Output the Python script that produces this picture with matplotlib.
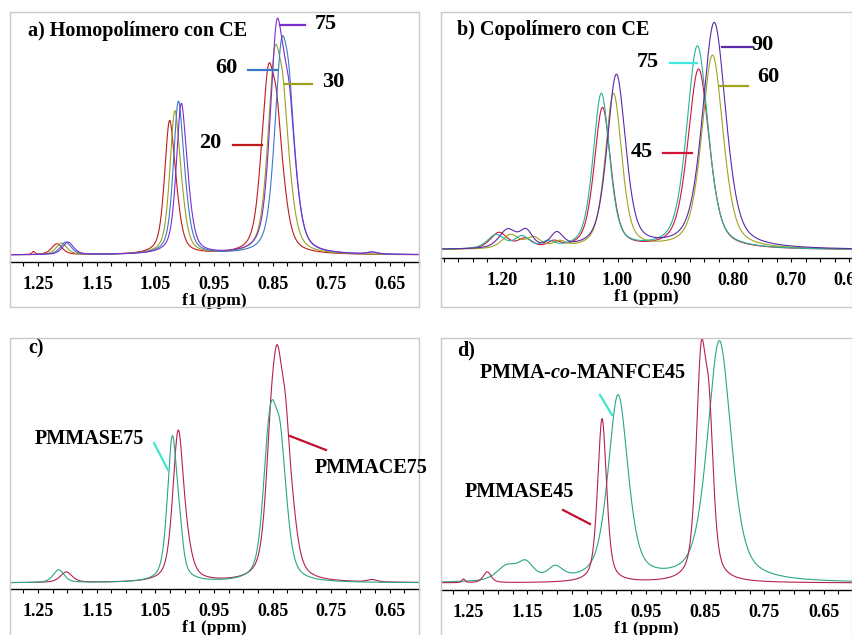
import numpy as np
import matplotlib
matplotlib.use("Agg")
import matplotlib.pyplot as plt
from matplotlib.lines import Line2D
from matplotlib.patches import Rectangle
from matplotlib.ticker import FixedLocator, MultipleLocator, FormatStrFormatter

plt.rcParams['font.family'] = ['Liberation Serif', 'DejaVu Serif']
plt.rcParams['mathtext.fontset'] = 'custom'
plt.rcParams['mathtext.it'] = 'Liberation Serif:italic:bold'
plt.rcParams['mathtext.rm'] = 'Liberation Serif:bold'
plt.rcParams['mathtext.bf'] = 'Liberation Serif:bold'

W, H = 852, 635

# peak tables: (shift ppm, height, width ppm)
a_20 = [(1.026, 0.52, 0.020), (1.013, 0.10, 0.020), (0.867, 0.18, 0.024), (0.857, 0.52, 0.022),
        (0.843, 0.42, 0.022), (0.830, 0.10, 0.024), (1.218, 0.045, 0.022), (1.258, 0.012, 0.006)]
a_30 = [(1.017, 0.56, 0.020), (1.004, 0.10, 0.020), (0.856, 0.18, 0.024), (0.846, 0.58, 0.022),
        (0.832, 0.46, 0.022), (0.819, 0.10, 0.024), (1.210, 0.048, 0.022)]
a_60 = [(1.011, 0.60, 0.020), (0.998, 0.10, 0.020), (0.845, 0.18, 0.024), (0.835, 0.58, 0.022),
        (0.822, 0.48, 0.022), (0.809, 0.10, 0.024), (1.203, 0.052, 0.022), (0.680, 0.008, 0.020)]
a_75 = [(1.006, 0.59, 0.020), (0.993, 0.10, 0.020), (0.853, 0.18, 0.024), (0.843, 0.66, 0.022),
        (0.832, 0.28, 0.022), (0.821, 0.42, 0.022), (0.808, 0.08, 0.024), (1.199, 0.052, 0.022),
        (0.680, 0.008, 0.020)]

b_45 = [(1.026, 0.61, 0.034), (0.860, 0.78, 0.044), (1.205, 0.07, 0.035), (1.160, 0.04, 0.030),
        (1.110, 0.025, 0.025)]
b_60 = [(1.007, 0.67, 0.034), (0.836, 0.84, 0.044), (1.185, 0.06, 0.035), (1.145, 0.045, 0.030),
        (1.100, 0.025, 0.025)]
b_75 = [(1.028, 0.67, 0.034), (0.862, 0.88, 0.044), (1.210, 0.06, 0.035), (1.165, 0.05, 0.030),
        (1.120, 0.025, 0.025)]
b_90 = [(1.002, 0.75, 0.038), (0.833, 0.98, 0.048), (1.190, 0.08, 0.035), (1.158, 0.07, 0.026),
        (1.105, 0.06, 0.026)]

c_se75 = [(1.021, 0.61, 0.020), (1.008, 0.10, 0.014), (0.860, 0.28, 0.022), (0.851, 0.44, 0.022),
          (0.837, 0.45, 0.022), (0.826, 0.09, 0.022), (1.215, 0.055, 0.022)]
c_ce75 = [(1.011, 0.63, 0.022), (0.995, 0.07, 0.022), (0.853, 0.42, 0.022), (0.842, 0.62, 0.022),
          (0.828, 0.50, 0.022), (0.814, 0.11, 0.022), (1.202, 0.045, 0.024), (0.680, 0.010, 0.020)]

d_se45 = [(1.024, 0.68, 0.018), (0.857, 0.86, 0.020), (0.843, 0.55, 0.018), (1.218, 0.045, 0.016),
          (1.258, 0.015, 0.006)]
d_ce45 = [(0.997, 0.77, 0.040), (0.826, 1.00, 0.048), (1.185, 0.06, 0.040), (1.153, 0.07, 0.032),
          (1.103, 0.05, 0.030)]

ticks_acd = [1.25, 1.15, 1.05, 0.95, 0.85, 0.75, 0.65]
ticks_b = [1.20, 1.10, 1.00, 0.90, 0.80, 0.70, 0.60]


def spectrum(x, peaks, eta=0.55):
    y = np.zeros_like(x)
    for c, h, w in peaks:
        d = (x - c) / (w / 2)
        y += h * (eta / (1 + d ** 2) + (1 - eta) * np.exp(-np.log(2) * d ** 2))
    return y


def fc(x, y):
    return x / W, 1 - y / H


fig = plt.figure(figsize=(8.52, 6.35), dpi=100)


def panel(left, top, right, bottom, fbottom, xlim, ylim, ticks):
    x0, y0 = fc(left, bottom)
    ax = fig.add_axes([x0, y0, (right - left) / W, (bottom - top) / H])
    fig.add_artist(Rectangle(fc(left, fbottom), (right - left) / W, (fbottom - top) / H,
                             transform=fig.transFigure, fill=False, ec='#c8c8c8', lw=1.0))
    for s in ['top', 'left', 'right']:
        ax.spines[s].set_visible(False)
    ax.spines['bottom'].set_linewidth(1.0)
    ax.set_xlim(*xlim)
    ax.set_ylim(*ylim)
    ax.set_yticks([])
    ax.xaxis.set_major_locator(FixedLocator(ticks))
    ax.xaxis.set_minor_locator(MultipleLocator(0.025))
    ax.xaxis.set_major_formatter(FormatStrFormatter('%.2f'))
    ax.tick_params(axis='x', which='both', direction='out', length=3, width=0.8, pad=7)
    for lab in ax.get_xticklabels():
        lab.set_fontweight('bold')
        lab.set_fontsize(13)
    ax.set_xlabel('f1 (ppm)', fontsize=12.5, fontweight='bold', labelpad=0)
    ax.patch.set_alpha(0)
    return ax


def label(x, y, s, size=14.5, ha='left', **kw):
    fig.text(x / W, 1 - y / H, s, fontsize=size, fontweight='bold', ha=ha, va='center', **kw)


def leader(x1, y1, x2, y2, color, lw=1.6):
    fig.add_artist(Line2D([x1 / W, x2 / W], [1 - y1 / H, 1 - y2 / H], color=color, lw=lw,
                          transform=fig.transFigure))


x = np.linspace(1.32, 0.58, 2000)

# a)
ax = panel(10, 12, 419, 262, 307, (1.298, 0.600), (-0.029, 1.008), ticks_acd)
for peaks, col in [(a_20, '#c01a1a'), (a_30, '#9ca11e'), (a_60, '#3c78c8'), (a_75, '#7a2ecf')]:
    ax.plot(x, spectrum(x, peaks), color=col, lw=0.8)
label(28, 31, 'a) Homopolímero con CE')
label(326, 24, '75', size=16, ha='center'); leader(280, 25, 305, 25, '#7a2ecf')
label(226, 68, '60', size=16, ha='center'); leader(248, 70, 277, 70, '#3c78c8')
label(333, 82, '30', size=16, ha='center'); leader(285, 84, 312, 84, '#9ca11e')
label(210, 143, '20', size=16, ha='center'); leader(233, 145, 262, 145, '#c01a1a')

# b)
ax = panel(441, 12, 852, 258, 307, (1.305, 0.595), (-0.035, 1.03), ticks_b)
for peaks, col in [(b_45, '#d0143c'), (b_60, '#a0a41c'), (b_75, '#25b49a'), (b_90, '#5a2aa8')]:
    ax.plot(x, spectrum(x, peaks, eta=0.5), color=col, lw=0.8)
label(457, 30, 'b) Copolímero con CE')
label(763, 45, '90', size=16, ha='center'); leader(722, 47, 752, 47, '#5a2aa8')
label(648, 62, '75', size=16, ha='center'); leader(670, 63, 697, 63, '#40e8e0')
label(768, 77, '60', size=16, ha='center'); leader(720, 86, 748, 86, '#a0a41c')
label(642, 152, '45', size=16, ha='center'); leader(663, 153, 692, 153, '#d0143c')

# c)
ax = panel(10, 338, 419, 589, 640, (1.298, 0.600), (-0.026, 1.047), ticks_acd)
for peaks, col in [(c_ce75, '#b52050'), (c_se75, '#2aa58a')]:
    ax.plot(x, spectrum(x, peaks), color=col, lw=0.8)
label(28, 348, 'c)')
label(35, 439, 'PMMASE75')
leader(154, 443, 168, 470, '#40e8d0')
label(315, 468, 'PMMACE75')
leader(290, 436, 326, 450, '#c01030')

# d)
ax = panel(441, 338, 852, 590, 640, (1.296, 0.602), (-0.029, 1.017), ticks_acd)
for peaks, col in [(d_ce45, '#2aa58a'), (d_se45, '#b52050')]:
    ax.plot(x, spectrum(x, peaks), color=col, lw=0.8)
label(457, 350, 'd)')
label(479, 373, 'PMMA-$\\mathit{co}$-MANFCE45')
leader(600, 395, 612, 415, '#40e8d0')
label(465, 492, 'PMMASE45')
leader(563, 510, 590, 524, '#c01030')

fig.savefig('out.png', dpi=100)
